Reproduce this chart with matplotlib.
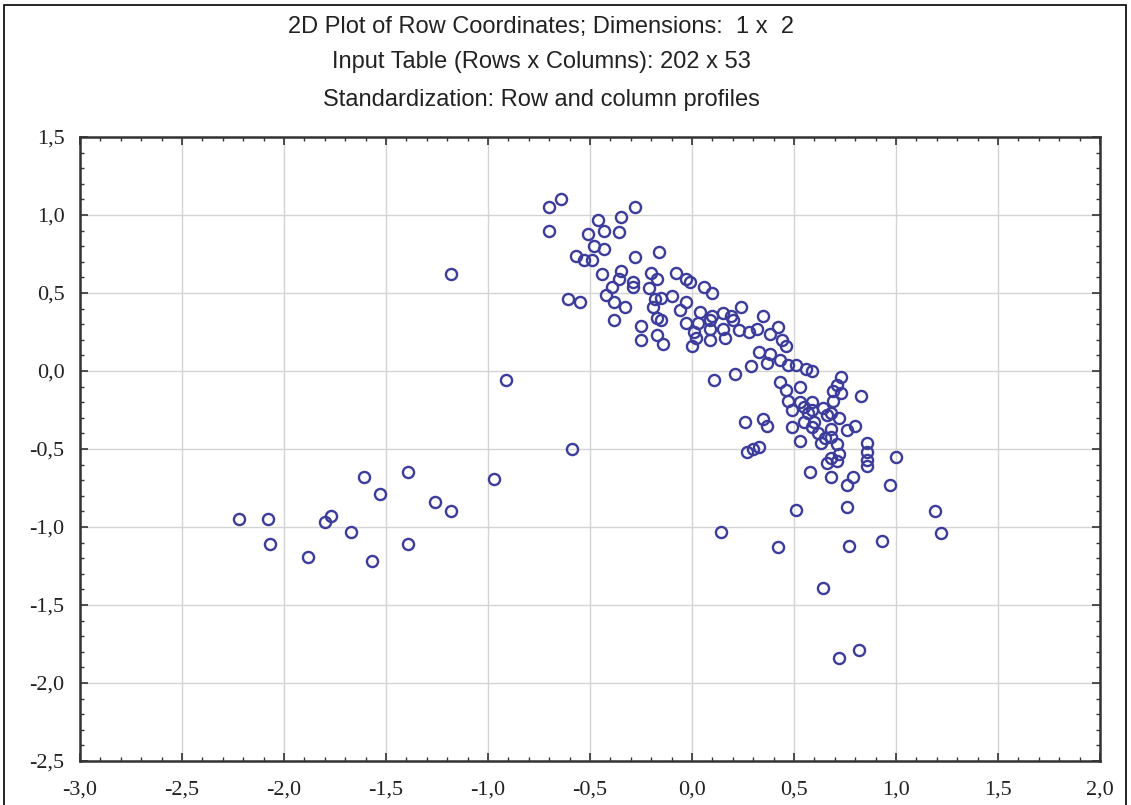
import numpy as np
import matplotlib.pyplot as plt
from matplotlib.ticker import MultipleLocator, FuncFormatter
from matplotlib.patches import Rectangle

# row coordinates (dimension 1, dimension 2)
dim1 = [
    -2.22, -2.08, -2.07, -1.88, -1.80, -1.77, -1.67, -1.61, -1.53, -1.57,
    -1.39, -1.39, -1.26, -1.18, -0.97, -0.91, -1.18, -0.59,
    -0.70, -0.64, -0.70, -0.46, -0.35, -0.28, -0.43, -0.36, -0.51, -0.48,
    -0.43, -0.57, -0.53, -0.49, -0.28, -0.16, -0.44, -0.35, -0.36, -0.29,
    -0.29, -0.39, -0.20, -0.17, -0.08, -0.03, -0.01, 0.06, 0.10, -0.21,
    -0.42, -0.38, -0.33, -0.61, -0.55, -0.38, -0.18, -0.15, -0.10, -0.19,
    -0.03, -0.17, -0.15, -0.25, -0.06, -0.03, 0.04, 0.03, 0.10, 0.15,
    0.19, 0.15, 0.24, 0.23, 0.28, 0.32, 0.35, 0.38, 0.42, 0.09,
    0.09, 0.20, 0.01,
    -0.25, -0.14, -0.17, 0.00, 0.02, 0.09, 0.16, 0.33, 0.38, 0.37,
    0.43, 0.46, 0.44, 0.47, 0.51, 0.56, 0.59, 0.21, 0.29, 0.11,
    0.43, 0.46, 0.53, 0.47, 0.49, 0.55, 0.57, 0.59, 0.64, 0.66,
    0.72, 0.73, 0.71, 0.69, 0.73, 0.69, 0.83, 0.49, 0.55, 0.59,
    0.62, 0.63, 0.68, 0.76, 0.80, 0.53, 0.71, 0.72, 0.68, 0.66,
    0.71, 0.86, 0.86, 0.86, 0.86, 1.00, 0.26, 0.35, 0.37, 0.27,
    0.30, 0.33, 0.58, 0.68, 0.76, 0.79, 0.97, 0.51, 0.76, 1.19,
    1.22, 0.14, 0.42, 0.77, 0.93, 0.64, 0.72, 0.82,
    0.65, 0.68, 0.53, 0.60, 0.68, 0.59,
]
dim2 = [
    -0.95, -0.95, -1.11, -1.19, -0.97, -0.93, -1.03, -0.68, -0.79, -1.22,
    -0.65, -1.11, -0.84, -0.90, -0.69, -0.06, 0.62, -0.50,
    1.05, 1.10, 0.90, 0.97, 0.99, 1.05, 0.90, 0.89, 0.88, 0.80,
    0.78, 0.74, 0.71, 0.71, 0.73, 0.76, 0.62, 0.64, 0.59, 0.57,
    0.54, 0.54, 0.63, 0.59, 0.63, 0.59, 0.57, 0.54, 0.50, 0.53,
    0.49, 0.44, 0.41, 0.46, 0.44, 0.33, 0.46, 0.47, 0.48, 0.41,
    0.44, 0.34, 0.33, 0.29, 0.39, 0.31, 0.38, 0.31, 0.35, 0.37,
    0.35, 0.27, 0.41, 0.26, 0.25, 0.27, 0.35, 0.24, 0.28, 0.33,
    0.27, 0.33, 0.25,
    0.20, 0.17, 0.23, 0.16, 0.21, 0.20, 0.21, 0.12, 0.11, 0.05,
    0.07, 0.16, 0.20, 0.04, 0.04, 0.01, 0.00, -0.02, 0.03, -0.06,
    -0.07, -0.12, -0.10, -0.19, -0.25, -0.23, -0.27, -0.20, -0.24, -0.28,
    -0.30, -0.04, -0.09, -0.13, -0.14, -0.19, -0.16, -0.36, -0.33, -0.36,
    -0.40, -0.46, -0.37, -0.38, -0.35, -0.45, -0.47, -0.53, -0.56, -0.59,
    -0.58, -0.46, -0.52, -0.57, -0.61, -0.55, -0.33, -0.31, -0.35, -0.52,
    -0.50, -0.49, -0.65, -0.68, -0.73, -0.68, -0.73, -0.89, -0.87, -0.90,
    -1.04, -1.03, -1.13, -1.12, -1.09, -1.39, -1.84, -1.79,
    -0.43, -0.42, -0.20, -0.33, -0.27, -0.25,
]

title_lines = [
    "2D Plot of Row Coordinates; Dimensions:  1 x  2",
    "Input Table (Rows x Columns): 202 x 53",
    "Standardization: Row and column profiles",
]

fig = plt.figure(figsize=(11.31, 8.05), dpi=100)
ax = fig.add_axes([80 / 1131, 1 - 761 / 805, 1020 / 1131, 624 / 805])

ax.plot(dim1, dim2, linestyle='none', marker='o', markersize=8,
        markerfacecolor='none', markeredgecolor='#3c3c9c', markeredgewidth=1.7)

ax.set_xlim(-3.0, 2.0)
ax.set_ylim(-2.5, 1.5)
ax.xaxis.set_major_locator(MultipleLocator(0.5))
ax.yaxis.set_major_locator(MultipleLocator(0.5))
ax.xaxis.set_minor_locator(MultipleLocator(0.1))
ax.yaxis.set_minor_locator(MultipleLocator(0.1))
comma = FuncFormatter(lambda v, p: ("%.1f" % v).replace('.', ','))
ax.xaxis.set_major_formatter(comma)
ax.yaxis.set_major_formatter(comma)

ax.grid(True, which='major', color='#d4d4d4', linewidth=1.0)
ax.tick_params(which='both', direction='in', top=True, right=True,
               color='#333333')
ax.tick_params(which='major', length=6, width=1.2, labelsize=16)
ax.tick_params(axis='x', which='major', pad=14)
ax.tick_params(axis='y', which='major', pad=11)
ax.tick_params(which='minor', length=3, width=1.0)
for lab in ax.get_xticklabels() + ax.get_yticklabels():
    lab.set_family('Liberation Serif')
    lab.set_color('#222222')
for s in ax.spines.values():
    s.set_linewidth(1.8)
    s.set_color('#333333')

ys = [27, 62, 100]
for line, yp in zip(title_lines, ys):
    fig.text(541 / 1131, 1 - yp / 805, line, ha='center', va='center',
             fontsize=17, family='Liberation Sans', color='#222222')

fig.patches.append(Rectangle((4 / 1131, -0.02), 1122 / 1131, 1.02 - 5 / 805,
                             transform=fig.transFigure, fill=False,
                             edgecolor='black', linewidth=1.2))

fig.savefig('out.png', dpi=100)
plt.close()
